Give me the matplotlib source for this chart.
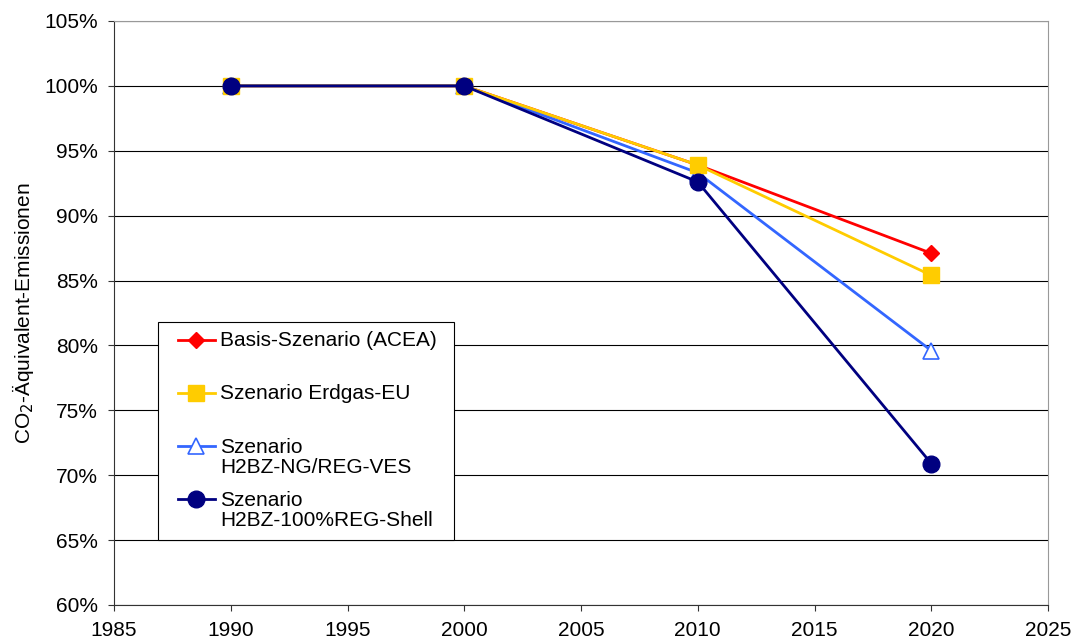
import matplotlib.pyplot as plt
from matplotlib.ticker import FuncFormatter
from matplotlib.legend_handler import HandlerLine2D
from matplotlib.transforms import Affine2D

plt.rcParams['font.family'] = ['Liberation Sans', 'DejaVu Sans']

# data
years = [1990, 2000, 2010, 2020]
basis = [100, 100, 93.9, 87.1]
erdgas = [100, 100, 93.9, 85.4]
h2bz_ng = [100, 100, 93.3, 79.6]
h2bz_reg = [100, 100, 92.6, 70.9]

# every label has two lines so the entries get equal height (like Excel)
labels = ["Basis-Szenario (ACEA)\n ", "Szenario Erdgas-EU\n ",
          "Szenario\nH2BZ-NG/REG-VES", "Szenario\nH2BZ-100%REG-Shell"]

FS = 15
LINESP = 1.1


class TopLineHandler(HandlerLine2D):
    # put the legend line next to the first text line, with a small indent
    def create_artists(self, legend, orig_handle, xdescent, ydescent,
                       width, height, fontsize, trans):
        dx = 0.5 * fontsize
        dy = 0.5 * LINESP * fontsize
        t = Affine2D().translate(dx, dy) + trans
        return super().create_artists(legend, orig_handle, xdescent, ydescent,
                                      width - dx, height, fontsize, t)


fig = plt.figure(figsize=(10.8, 6.44), dpi=100)
ax = fig.add_axes([0.1056, 0.0606, 0.8648, 0.9068])

l1, = ax.plot(years, basis, color="#FF0000", lw=2, marker="D", ms=8.5, zorder=3)
l3, = ax.plot(years, h2bz_ng, color="#3366FF", lw=2, marker="^", ms=11.5,
              markerfacecolor="white", markeredgecolor="#3366FF", mew=1.2, zorder=4)
l2, = ax.plot(years, erdgas, color="#FFCC00", lw=2, marker="s", ms=11, zorder=5)
l4, = ax.plot(years, h2bz_reg, color="#000080", lw=2, marker="o", ms=12, zorder=6)

ax.set_xlim(1985, 2025)
ax.set_ylim(60, 105)
ax.set_xticks(range(1985, 2026, 5))
ax.set_yticks(range(60, 106, 5))
ax.yaxis.set_major_formatter(FuncFormatter(lambda v, p: "%d%%" % v))
ax.grid(axis="y", color="black", lw=0.8)
ax.set_axisbelow(True)
ax.tick_params(labelsize=FS, length=4.5, width=0.8, pad=7,
               colors="#333333", labelcolor="black")

for s in ["top", "right"]:
    ax.spines[s].set_color("#999999")
for s in ["left", "bottom"]:
    ax.spines[s].set_color("#333333")

ax.set_ylabel("CO$_2$-Äquivalent-Emissionen", fontsize=FS, labelpad=6)

leg = ax.legend([l1, l2, l3, l4], labels, loc="upper left",
                bbox_to_anchor=(0.047, 0.111, 0.317, 0.374), mode="expand",
                borderaxespad=0, fontsize=FS, frameon=True,
                fancybox=False, edgecolor="black", framealpha=1,
                labelspacing=0.66, handlelength=2.3, handletextpad=0.25,
                borderpad=0.45,
                handler_map={l: TopLineHandler() for l in [l1, l2, l3, l4]})
leg.get_frame().set_linewidth(0.8)
for t in leg.get_texts():
    t.set_linespacing(LINESP)

fig.savefig("out.png", dpi=100)
